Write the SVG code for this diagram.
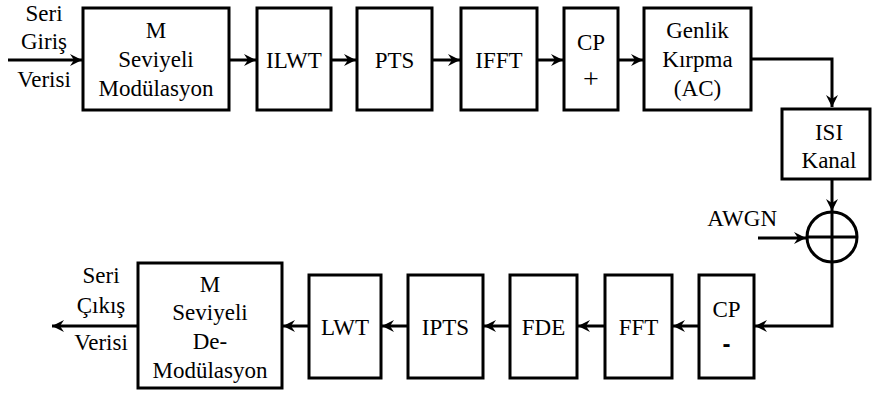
<svg xmlns="http://www.w3.org/2000/svg" width="872" height="396" viewBox="0 0 872 396">
<defs>
<marker id="ah" markerUnits="userSpaceOnUse" markerWidth="14" markerHeight="14" refX="12" refY="7" orient="auto">
<path d="M0,1 L12,7 L0,13 L4,7 Z" fill="#000" stroke="none"/>
</marker>
<style>
.b{fill:#fff;stroke:#000;stroke-width:3}
.c{fill:none;stroke:#000;stroke-width:3}
</style>
</defs>
<rect width="872" height="396" fill="#fff"/>
<g font-family="Liberation Serif, serif" font-size="23" text-anchor="middle" fill="#000">
<g id="input-label"><text x="44" y="21">Seri</text><text x="44" y="49">Giriş</text><text x="44" y="87">Verisi</text></g>
<g id="mod"><rect class="b" x="83" y="8" width="146" height="102"/><text x="156" y="38">M</text><text x="156" y="67">Seviyeli</text><text x="156" y="96">Modülasyon</text></g>
<g id="ilwt"><rect class="b" x="257" y="8" width="74" height="102"/><text x="294" y="68">ILWT</text></g>
<g id="pts"><rect class="b" x="357" y="8" width="75" height="102"/><text x="394.5" y="68">PTS</text></g>
<g id="ifft"><rect class="b" x="461" y="8" width="76" height="102"/><text x="499" y="68">IFFT</text></g>
<g id="cpadd"><rect class="b" x="564" y="8" width="54" height="102"/><text x="591" y="50">CP</text><text x="591" y="88" font-size="28">+</text></g>
<g id="ac"><rect class="b" x="644" y="8" width="107" height="102"/><text x="697.5" y="38">Genlik</text><text x="697.5" y="67">Kırpma</text><text x="697.5" y="96">(AC)</text></g>
<g id="isi"><rect class="b" x="782" y="109" width="88" height="70"/><text x="829" y="140">ISI</text><text x="829" y="168">Kanal</text></g>
<g id="sum"><circle class="c" cx="832" cy="237" r="25"/><line class="c" x1="832" y1="212" x2="832" y2="262"/><line class="c" x1="807" y1="237" x2="857" y2="237"/></g>
<g id="awgn"><text x="777" y="226" text-anchor="end">AWGN</text></g>
<g id="cprem"><rect class="b" x="699" y="275" width="55" height="103"/><text x="726.5" y="317">CP</text><text x="726.5" y="352" font-family="Liberation Sans, sans-serif" font-weight="bold" font-size="24">-</text></g>
<g id="fft"><rect class="b" x="605" y="275" width="67" height="103"/><text x="638.5" y="335">FFT</text></g>
<g id="fde"><rect class="b" x="510" y="275" width="67" height="103"/><text x="543.5" y="335">FDE</text></g>
<g id="ipts"><rect class="b" x="408" y="275" width="75" height="103"/><text x="445.5" y="335">IPTS</text></g>
<g id="lwt"><rect class="b" x="309" y="275" width="72" height="103"/><text x="345" y="335">LWT</text></g>
<g id="demod"><rect class="b" x="138" y="263" width="144" height="125"/><text x="210" y="292">M</text><text x="210" y="320">Seviyeli</text><text x="210" y="349">De-</text><text x="210" y="378">Modülasyon</text></g>
<g id="output-label"><text x="101" y="283">Seri</text><text x="101" y="313">Çıkış</text><text x="101" y="350">Verisi</text></g>
</g>
<g id="connectors">
<line class="c" x1="8" y1="60" x2="82" y2="60" marker-end="url(#ah)"/>
<line class="c" x1="229" y1="60" x2="256" y2="60" marker-end="url(#ah)"/>
<line class="c" x1="331" y1="60" x2="356" y2="60" marker-end="url(#ah)"/>
<line class="c" x1="432" y1="60" x2="460" y2="60" marker-end="url(#ah)"/>
<line class="c" x1="537" y1="60" x2="563" y2="60" marker-end="url(#ah)"/>
<line class="c" x1="618" y1="60" x2="643" y2="60" marker-end="url(#ah)"/>
<polyline class="c" points="751,59 832,59 832,107" marker-end="url(#ah)"/>
<line class="c" x1="832" y1="179" x2="832" y2="211" marker-end="url(#ah)"/>
<line class="c" x1="758" y1="238" x2="806" y2="238" marker-end="url(#ah)"/>
<polyline class="c" points="832,262 832,326 755,326" marker-end="url(#ah)"/>
<line class="c" x1="699" y1="326" x2="673" y2="326" marker-end="url(#ah)"/>
<line class="c" x1="605" y1="326" x2="578" y2="326" marker-end="url(#ah)"/>
<line class="c" x1="510" y1="326" x2="484" y2="326" marker-end="url(#ah)"/>
<line class="c" x1="408" y1="326" x2="382" y2="326" marker-end="url(#ah)"/>
<line class="c" x1="309" y1="326" x2="283" y2="326" marker-end="url(#ah)"/>
<line class="c" x1="138" y1="326" x2="52" y2="326" marker-end="url(#ah)"/>
</g>
</svg>
